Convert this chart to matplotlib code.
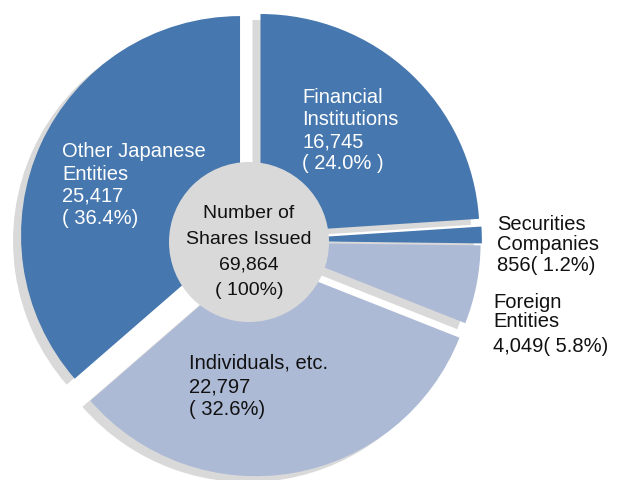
import matplotlib
matplotlib.use('Agg')
import matplotlib.pyplot as plt
from matplotlib.patches import Circle

plt.rcParams['font.family'] = ['Liberation Sans', 'DejaVu Sans']

# shareholder breakdown (thousand shares)
categories = ['Financial Institutions', 'Securities Companies', 'Foreign Entities',
              'Individuals, etc.', 'Other Japanese Entities']
shares = [16745, 856, 4049, 22797, 25417]
total_shares = 69864
label_lines = [
    ['Financial', 'Institutions', '16,745', '( 24.0% )'],
    ['Securities', 'Companies', '856( 1.2%)'],
    ['Foreign', 'Entities', '4,049( 5.8%)'],
    ['Individuals, etc.', '22,797', '( 32.6%)'],
    ['Other Japanese', 'Entities', '25,417', '( 36.4%)'],
]
center_lines = ['Number of', 'Shares Issued', '69,864', '( 100%)']

dark = '#4677AE'
light = '#ADBAD6'
grey = '#D9D9D9'
colors = [dark, dark, light, light, dark]
explode = [0.05, 0.045, 0.04, 0.075, 0.065]

W, H = 630, 481
fig = plt.figure(figsize=(W / 100, H / 100), dpi=100)
ax = fig.add_axes([0, 0, 1, 1])

# pie centre in pixels and radius in pixels
cx, cy, scale = 253, 242, 219

# grey "shadow" pie, shifted left/down
ax.pie(shares, explode=explode, colors=[grey] * len(shares), startangle=90,
       counterclock=False, center=(-8 / scale, -6 / scale),
       wedgeprops=dict(linewidth=0))
ax.pie(shares, explode=explode, colors=colors, startangle=90,
       counterclock=False, wedgeprops=dict(linewidth=0))
ax.add_patch(Circle((-4 / scale, -1 / scale), 80 / scale, facecolor=grey,
                    edgecolor='none', zorder=5))

ax.set_xlim(-cx / scale, (W - cx) / scale)
ax.set_ylim(-(H - cy) / scale, cy / scale)
ax.set_aspect('auto')
ax.axis('off')


def put_lines(lines, x, baselines, color, ha='left', size=14.5):
    for txt, yb in zip(lines, baselines):
        fig.text(x / W, 1 - yb / H, txt, color=color, fontsize=size,
                 ha=ha, va='baseline', zorder=10)


put_lines(label_lines[0], 302, [103, 125, 147, 169], 'white')
put_lines(label_lines[1], 497, [230, 250, 271], '#111111')
put_lines(label_lines[2], 493, [308, 327, 352], '#111111')
put_lines(label_lines[3], 189, [369, 393, 415], '#111111')
put_lines(label_lines[4], 62, [157, 180, 202, 224], 'white')
put_lines(center_lines, 249, [218, 244, 270, 295], '#111111', ha='center', size=14)

fig.savefig('out.png', dpi=100)
